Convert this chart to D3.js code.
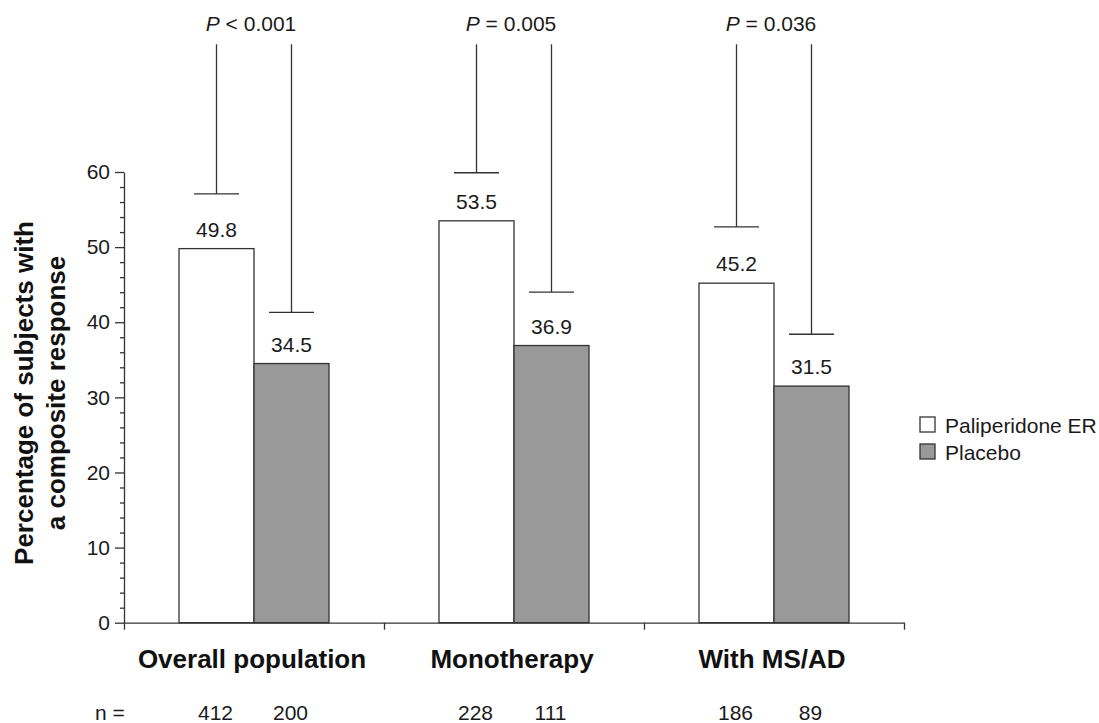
<!DOCTYPE html>
<html>
<head>
<meta charset="utf-8">
<script src="https://cdn.jsdelivr.net/npm/d3@7"></script>
<style>
  body { margin: 0; background: #fff; }
  svg { display: block; font-family: "Liberation Sans", Arial, sans-serif; }
</style>
</head>
<body>
<svg id="chart" width="1099" height="723"></svg>
<script>
// ---- data ----
const categories = ["Overall population", "Monotherapy", "With MS/AD"];
const seriesNames = ["Paliperidone ER", "Placebo"];
const paliperidone = [49.8, 53.5, 45.2];
const placebo = [34.5, 36.9, 31.5];
const paliperidoneUpper = [57.1, 59.9, 52.7];
const placeboUpper = [41.3, 44.0, 38.4];
const bracketTop = 77;
const pLabels = ["< 0.001", "= 0.005", "= 0.036"];
const nPaliperidone = [412, 228, 186];
const nPlacebo = [200, 111, 89];
const yTicks = [0, 10, 20, 30, 40, 50, 60];
const yMinorTicks = [2, 4, 6, 8, 12, 14, 16, 18, 22, 24, 26, 28, 32, 34, 36, 38, 42, 44, 46, 48, 52, 54, 56, 58];

(function () {
// ---- layout ----
const svg = d3.select("#chart");
const mLeft = 124, mRight = 904, mTop = 172, mBottom = 622.7;
const fills = ["#ffffff", "#999999"];
const ink = "#333333";
const textCol = "#1a1a1a";

const y = d3.scaleLinear().domain([0, 60]).range([mBottom, mTop]);
const x0 = d3.scaleBand().domain(categories).range([mLeft, mRight]).padding(0);
const bw = x0.bandwidth();
const barW = 75;
const x1 = d3.scaleBand().domain(seriesNames).range([bw / 2 - barW, bw / 2 + barW]).padding(0);

const rows = [];
categories.forEach((c, i) => {
  rows.push({cat: c, s: seriesNames[0], v: paliperidone[i], up: paliperidoneUpper[i], n: nPaliperidone[i], fill: fills[0]});
  rows.push({cat: c, s: seriesNames[1], v: placebo[i], up: placeboUpper[i], n: nPlacebo[i], fill: fills[1]});
});
const cx = d => x0(d.cat) + x1(d.s) + x1.bandwidth() / 2;

// ---- bars ----
svg.append("g").selectAll("rect").data(rows).join("rect")
  .attr("x", d => x0(d.cat) + x1(d.s))
  .attr("y", d => y(d.v))
  .attr("width", x1.bandwidth())
  .attr("height", d => y(0) - y(d.v))
  .attr("fill", d => d.fill)
  .attr("stroke", ink)
  .attr("stroke-width", 1.3);

// ---- brackets ----
const br = svg.append("g").attr("stroke", ink).attr("stroke-width", 1.3);
br.selectAll("line.v").data(rows).join("line").attr("class", "v")
  .attr("x1", cx).attr("x2", cx)
  .attr("y1", d => y(d.up)).attr("y2", y(bracketTop));
br.selectAll("line.c").data(rows).join("line").attr("class", "c")
  .attr("x1", d => cx(d) - 22.5).attr("x2", d => cx(d) + 22.5)
  .attr("y1", d => y(d.up)).attr("y2", d => y(d.up));

// ---- value labels ----
svg.append("g").selectAll("text").data(rows).join("text")
  .attr("x", cx).attr("y", d => y(d.v) - 12)
  .attr("text-anchor", "middle").attr("font-size", 21).attr("fill", textCol)
  .text(d => d.v.toFixed(1));

// ---- P labels ----
const pg = svg.append("g").selectAll("text").data(categories).join("text")
  .attr("x", d => x0(d) + bw / 2 - 3).attr("y", 31)
  .attr("text-anchor", "middle").attr("font-size", 21).attr("fill", textCol);
pg.append("tspan").attr("font-style", "italic").text("P");
pg.append("tspan").text((d, i) => " " + pLabels[i]);

// ---- y axis ----
svg.append("g").attr("transform", `translate(${mLeft},0)`)
  .call(d3.axisLeft(y).tickValues(yTicks).tickSize(9).tickSizeOuter(0).tickPadding(5))
  .call(g => g.select(".domain").attr("stroke", ink).attr("stroke-width", 1.3))
  .call(g => g.selectAll(".tick line").attr("stroke", ink).attr("stroke-width", 1.3))
  .call(g => g.selectAll(".tick text").attr("font-size", 21).attr("fill", textCol)
    .attr("font-family", "Liberation Sans, Arial, sans-serif"));
svg.append("g").attr("transform", `translate(${mLeft},0)`)
  .call(d3.axisLeft(y).tickValues(yMinorTicks).tickSize(4).tickSizeOuter(0).tickFormat(""))
  .call(g => g.select(".domain").remove())
  .call(g => g.selectAll(".tick line").attr("stroke", ink).attr("stroke-width", 1.3));

// ---- x axis ----
const xb = d3.scaleLinear().domain([0, categories.length]).range([mLeft, mRight]);
svg.append("g").attr("transform", `translate(0,${mBottom})`)
  .call(d3.axisBottom(xb).tickValues(d3.range(categories.length + 1)).tickSize(7).tickSizeOuter(0).tickFormat(""))
  .call(g => g.select(".domain").attr("stroke", ink).attr("stroke-width", 1.3))
  .call(g => g.selectAll(".tick line").attr("stroke", ink).attr("stroke-width", 1.3));

svg.append("g").selectAll("text").data(categories).join("text")
  .attr("x", d => x0(d) + bw / 2 - 2).attr("y", 668)
  .attr("text-anchor", "middle").attr("font-size", 26).attr("font-weight", "bold").attr("fill", "#111")
  .text(d => d);

// ---- n row ----
svg.append("text").attr("x", 95).attr("y", 720).attr("font-size", 21).attr("fill", textCol).text("n =");
svg.append("g").selectAll("text").data(rows).join("text")
  .attr("x", d => cx(d) - 1).attr("y", 720)
  .attr("text-anchor", "middle").attr("font-size", 21).attr("fill", textCol)
  .text(d => d.n);

// ---- y title ----
const yTitle = ["Percentage of subjects with", "a composite response"];
svg.append("g").selectAll("text").data(yTitle).join("text")
  .attr("transform", (d, i) => `translate(${33 + i * 32},393) rotate(-90)`)
  .attr("text-anchor", "middle").attr("font-size", 26).attr("font-weight", "bold").attr("fill", "#111")
  .text(d => d);

// ---- legend ----
const lg = svg.append("g").selectAll("g").data(seriesNames).join("g")
  .attr("transform", (d, i) => `translate(920,${417 + i * 27})`);
lg.append("rect").attr("width", 15).attr("height", 15)
  .attr("fill", (d, i) => fills[i]).attr("stroke", ink).attr("stroke-width", 1.3);
lg.append("text").attr("x", 25).attr("y", 15.5).attr("font-size", 21).attr("fill", textCol).text(d => d);
})();
</script>
</body>
</html>
